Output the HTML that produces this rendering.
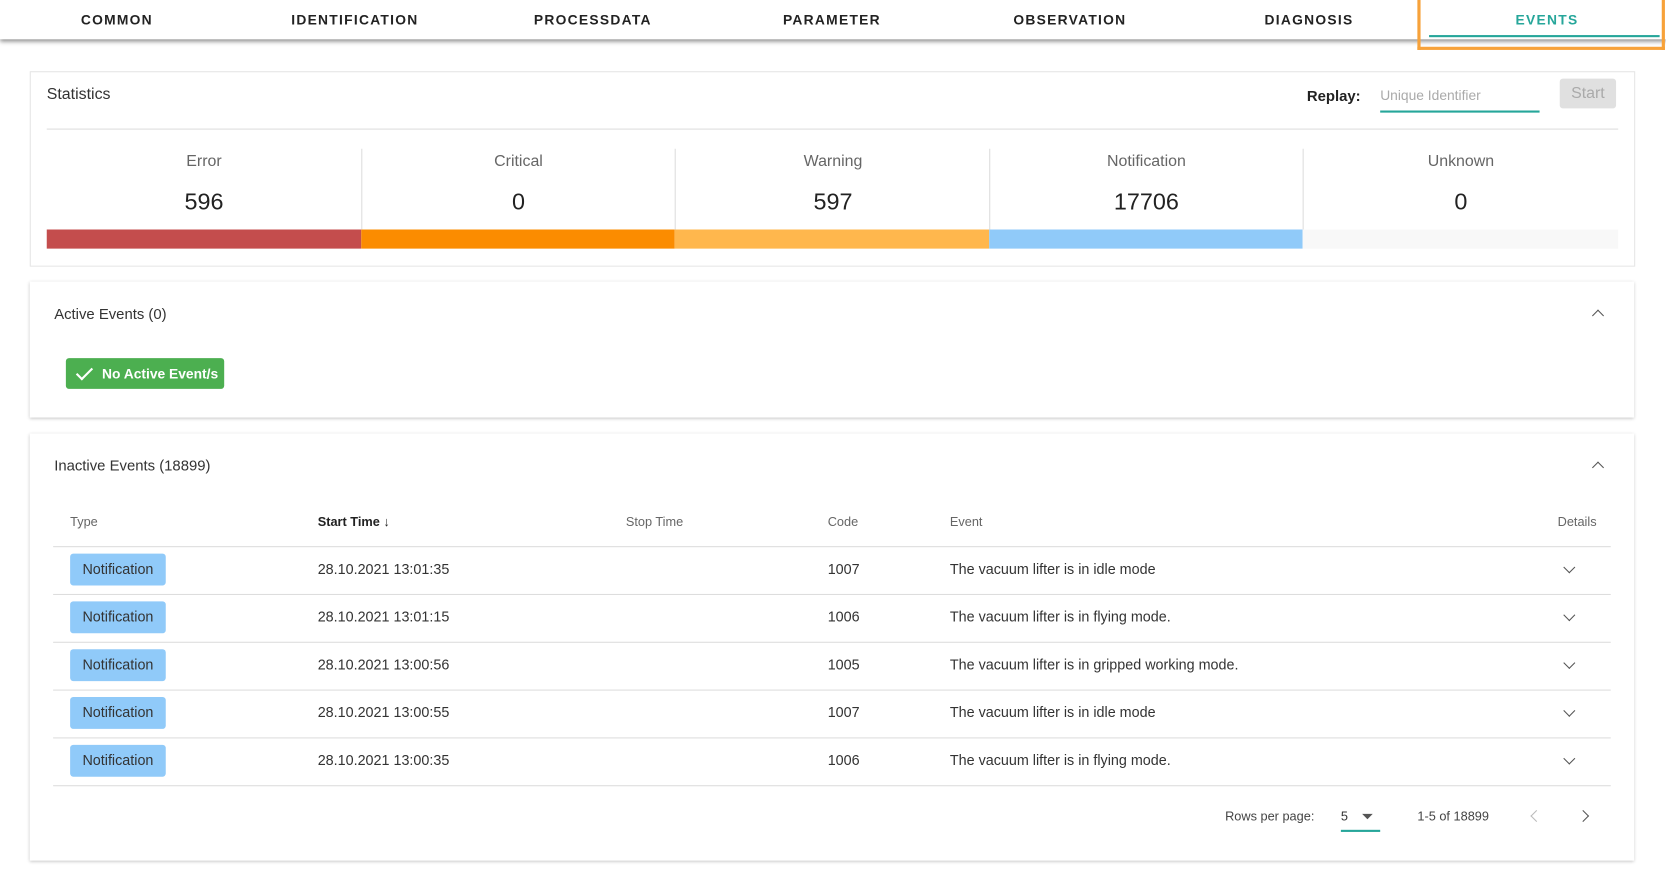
<!DOCTYPE html>
<html><head><style>
body{margin:0;width:1666px;height:879px;overflow:hidden;background:#fff;font-family:"Liberation Sans",sans-serif;}
#s{position:absolute;left:0;top:0;width:1568px;height:828px;transform:scale(1.0625);transform-origin:0 0;}
.a{position:absolute;}
.tab{position:absolute;top:11px;width:224px;text-align:center;font-size:13px;font-weight:bold;letter-spacing:1.2px;color:#222;}
.card{position:absolute;left:28px;width:1510px;background:#fff;box-shadow:0 1px 3px rgba(0,0,0,.25);}
.col{position:absolute;top:0;width:296px;text-align:center;}
.lbl{font-size:15px;color:#666;position:absolute;top:75px;width:100%;}
.val{font-size:22px;color:#222;position:absolute;top:109px;width:100%;}
.th{position:absolute;top:76px;font-size:12px;color:#666;}
.row{position:absolute;left:22px;width:1466px;height:45px;border-bottom:1px solid #ddd;}
.chip{position:absolute;left:16px;top:7px;width:90px;height:30px;background:#90caf9;border-radius:3px;font-size:13.5px;color:#333;text-align:center;line-height:29px;}
.c{position:absolute;top:14px;font-size:13.5px;color:#333;}
.chev{position:absolute;width:7px;height:7px;border-right:1.6px solid #555;border-bottom:1.6px solid #555;}
</style></head><body><div id="s">
<div class="a" style="left:0;top:0;width:1568px;height:37px;background:#fff;box-shadow:0 2px 4px rgba(0,0,0,.45);"></div>
<div class="tab" style="left:-2px">COMMON</div>
<div class="tab" style="left:222px">IDENTIFICATION</div>
<div class="tab" style="left:446px">PROCESSDATA</div>
<div class="tab" style="left:671px">PARAMETER</div>
<div class="tab" style="left:895px">OBSERVATION</div>
<div class="tab" style="left:1120px">DIAGNOSIS</div>
<div class="tab" style="left:1344px;color:#26a69a">EVENTS</div>
<div class="a" style="left:1345px;top:33px;width:217px;height:2px;background:#26a69a"></div>
<div class="a" style="left:1334px;top:0;width:227px;height:44px;border:3px solid #f7a23a;border-top:0"></div>

<div class="card" style="top:67px;height:182px;box-shadow:none;border:1px solid #e6e6e6;width:1509px;">
<div class="a" style="left:15px;top:12px;font-size:15px;color:#333">Statistics</div>
<div class="a" style="left:1201px;top:14px;font-size:14px;font-weight:bold;color:#222">Replay:</div>
<div class="a" style="left:1270px;top:14px;font-size:13px;color:#aaa">Unique Identifier</div>
<div class="a" style="left:1270px;top:36px;width:150px;height:2px;background:#26a69a"></div>
<div class="a" style="left:1439px;top:6px;width:53px;height:28px;background:#e0e0e0;border-radius:3px;color:#aaa;font-size:15px;text-align:center;line-height:28px">Start</div>
<div class="a" style="left:15px;top:53px;width:1479px;height:1px;background:#ddd"></div>
<div class="a" style="left:15px;top:0;width:1479px;height:182px">
<div class="col" style="left:0"><div class="lbl">Error</div><div class="val">596</div></div>
<div class="col" style="left:296px"><div class="lbl">Critical</div><div class="val">0</div></div>
<div class="col" style="left:592px"><div class="lbl">Warning</div><div class="val">597</div></div>
<div class="col" style="left:887px"><div class="lbl">Notification</div><div class="val">17706</div></div>
<div class="col" style="left:1183px"><div class="lbl">Unknown</div><div class="val">0</div></div>
<div class="a" style="left:296px;top:72px;width:1px;height:76px;background:#ddd"></div>
<div class="a" style="left:591px;top:72px;width:1px;height:76px;background:#ddd"></div>
<div class="a" style="left:887px;top:72px;width:1px;height:76px;background:#ddd"></div>
<div class="a" style="left:1182px;top:72px;width:1px;height:76px;background:#ddd"></div>
<div class="a" style="left:0;top:148px;width:296px;height:18px;background:#c44d4d"></div>
<div class="a" style="left:296px;top:148px;width:295px;height:18px;background:#fb8c00"></div>
<div class="a" style="left:591px;top:148px;width:296px;height:18px;background:#ffb74d"></div>
<div class="a" style="left:887px;top:148px;width:295px;height:18px;background:#90caf9"></div>
<div class="a" style="left:1182px;top:148px;width:297px;height:18px;background:#f8f8f8"></div>
</div></div>

<div class="card" style="top:265px;height:128px">
<div class="a" style="left:23px;top:22px;font-size:14px;color:#333">Active Events (0)</div>
<div class="chev" style="left:1472px;top:28px;transform:rotate(-135deg)"></div>
<div class="a" style="left:34px;top:72px;width:149px;height:29px;background:#4caf50;border-radius:3px;color:#fff;font-size:13px;font-weight:bold;line-height:29px">
<span style="position:absolute;left:10px;top:9px;width:13px;height:6px;border-left:2px solid #fff;border-bottom:2px solid #fff;transform:rotate(-45deg)"></span>
<span style="position:absolute;left:34px">No Active Event/s</span></div>
</div>

<div class="card" style="top:408px;height:402px">
<div class="a" style="left:23px;top:22px;font-size:14px;color:#333">Inactive Events (18899)</div>
<div class="chev" style="left:1472px;top:28px;transform:rotate(-135deg)"></div>
<div class="th" style="left:38px">Type</div>
<div class="th" style="left:271px;color:#222;font-weight:bold">Start Time ↓</div>
<div class="th" style="left:561px">Stop Time</div>
<div class="th" style="left:751px">Code</div>
<div class="th" style="left:866px">Event</div>
<div class="th" style="left:1438px">Details</div>
<div class="a" style="left:22px;top:106px;width:1466px;height:1px;background:#ddd"></div>
<div class="row" style="top:106px"><div class="chip">Notification</div><div class="c" style="left:249px">28.10.2021 13:01:35</div><div class="c" style="left:729px">1007</div><div class="c" style="left:844px">The vacuum lifter is in idle mode</div><div class="chev" style="left:1423px;top:16px;transform:rotate(45deg)"></div></div>
<div class="row" style="top:151px"><div class="chip">Notification</div><div class="c" style="left:249px">28.10.2021 13:01:15</div><div class="c" style="left:729px">1006</div><div class="c" style="left:844px">The vacuum lifter is in flying mode.</div><div class="chev" style="left:1423px;top:16px;transform:rotate(45deg)"></div></div>
<div class="row" style="top:196px"><div class="chip">Notification</div><div class="c" style="left:249px">28.10.2021 13:00:56</div><div class="c" style="left:729px">1005</div><div class="c" style="left:844px">The vacuum lifter is in gripped working mode.</div><div class="chev" style="left:1423px;top:16px;transform:rotate(45deg)"></div></div>
<div class="row" style="top:241px"><div class="chip">Notification</div><div class="c" style="left:249px">28.10.2021 13:00:55</div><div class="c" style="left:729px">1007</div><div class="c" style="left:844px">The vacuum lifter is in idle mode</div><div class="chev" style="left:1423px;top:16px;transform:rotate(45deg)"></div></div>
<div class="row" style="top:286px"><div class="chip">Notification</div><div class="c" style="left:249px">28.10.2021 13:00:35</div><div class="c" style="left:729px">1006</div><div class="c" style="left:844px">The vacuum lifter is in flying mode.</div><div class="chev" style="left:1423px;top:16px;transform:rotate(45deg)"></div></div>
<div class="a" style="left:1125px;top:353px;font-size:12px;color:#444">Rows per page:</div>
<div class="a" style="left:1234px;top:353px;font-size:12px;color:#333">5</div>
<div class="a" style="left:1254px;top:358px;border-left:5px solid transparent;border-right:5px solid transparent;border-top:5px solid #555"></div>
<div class="a" style="left:1234px;top:373px;width:37px;height:2px;background:#26a69a"></div>
<div class="a" style="left:1306px;top:353px;font-size:12px;color:#444">1-5 of 18899</div>
<div class="chev" style="left:1414px;top:356px;transform:rotate(135deg);border-color:#bbb"></div>
<div class="chev" style="left:1458px;top:356px;transform:rotate(-45deg)"></div>
</div>
</div></body></html>
